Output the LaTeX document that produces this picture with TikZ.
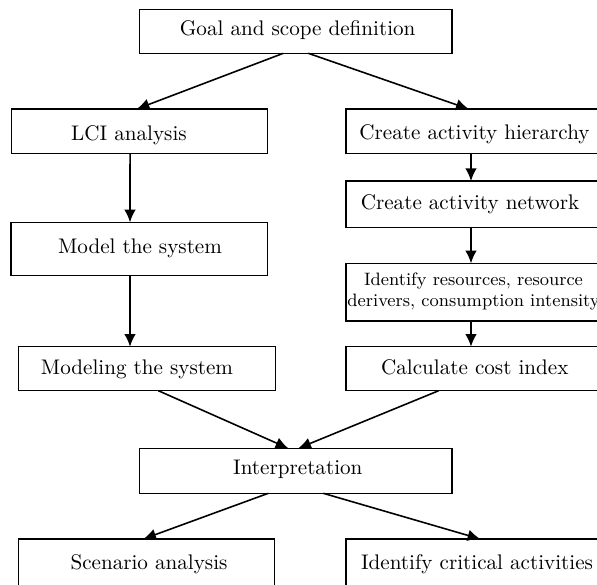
\documentclass[tikz,border=0pt]{standalone}
\usetikzlibrary{arrows.meta,calc}
\newcommand\pxu{0.4734pt}
\tikzset{
  every picture/.style={x=0.4734pt,y=-0.4734pt},
  boxnode/.style={draw,line width=0.5pt,inner sep=0pt,outer sep=0pt,rectangle},
  txt/.style={inner sep=0pt,outer sep=0pt,anchor=base},
  arr/.style={line width=0.75pt,-{Latex[length=6pt,width=5.5pt]}}
}
\newcommand\bx[5]{\node[boxnode,minimum width=#4*\pxu,minimum height=#5*\pxu] (#1) at (#2,#3) {};}
\begin{document}
\begin{tikzpicture}
\useasboundingbox (0,0) rectangle (597,585);
% boxes
\bx{goal}{295.65}{31.4}{312.7}{43.8}
\bx{lci}{139.2}{131.15}{256.3}{44.3}
\bx{model}{139.2}{249}{256.4}{53.4}
\bx{modeling}{146.9}{368.7}{256.3}{44}
\bx{interp}{295.65}{470.8}{312.7}{45}
\bx{scen}{146.2}{563}{255.7}{48}
\bx{hier}{472}{131.15}{252}{44.3}
\bx{net}{472}{204.35}{252}{46.7}
\bx{ident}{472}{292.15}{252}{57.7}
\bx{calc}{472}{368.7}{252}{44}
\bx{crit}{472}{563}{252}{48}
% texts
\node[txt] (tgoal) at (297.7,35) {Goal and scope definition};
\node[txt] (tlci) at (129,140) {LCI analysis};
\node[txt] (tmodel) at (140,253.3) {Model the system};
\node[txt] (tmodeling) at (137,374.3) {Modeling the system};
\node[txt] (tinterp) at (297.8,474.3) {Interpretation};
\node[txt] (tscen) at (149,569) {Scenario analysis};
\node[txt] (thier) at (474.5,139) {Create activity hierarchy};
\node[txt] (tnet) at (470,209.5) {Create activity network};
\node[inner sep=0pt,outer sep=0pt,align=center,font=\fontsize{8.5}{9.5}\selectfont] (tident) at (473.5,291.5) {Identify resources, resource\\derivers, consumption intensity};
\node[txt] (tcalc) at (474.8,374.3) {Calculate cost index};
\node[txt] (tcrit) at (477,569) {Identify critical activities};
% arrows
\draw[arr] ($(goal.south west)+(144,0)$) -- ($(lci.north west)+(125.7,0)$);
\draw[arr] ($(goal.south west)+(169,0)$) -- ($(hier.north west)+(122.7,0)$);
\draw[arr] ($(lci.south west)+(119,0)$) -- ($(model.north west)+(119,0)$);
\draw[arr] ($(model.south west)+(119,0)$) -- ($(modeling.north west)+(111.25,0)$);
\draw[arr] ($(hier.south west)+(125,0)$) -- ($(net.north west)+(125,0)$);
\draw[arr] ($(net.south west)+(125,0)$) -- ($(ident.north west)+(125,0)$);
\draw[arr] ($(ident.south west)+(125,0)$) -- ($(calc.north west)+(125,0)$);
\draw[arr] ($(modeling.south west)+(139.6,0)$) -- ($(interp.north west)+(149,0)$);
\draw[arr] ($(calc.south west)+(92.7,0)$) -- ($(interp.north west)+(159,0)$);
\draw[arr] ($(interp.south west)+(129,0)$) -- ($(scen.north west)+(125,0)$);
\draw[arr] ($(interp.south west)+(184,0)$) -- ($(crit.north west)+(134.3,0)$);
\end{tikzpicture}
\end{document}
